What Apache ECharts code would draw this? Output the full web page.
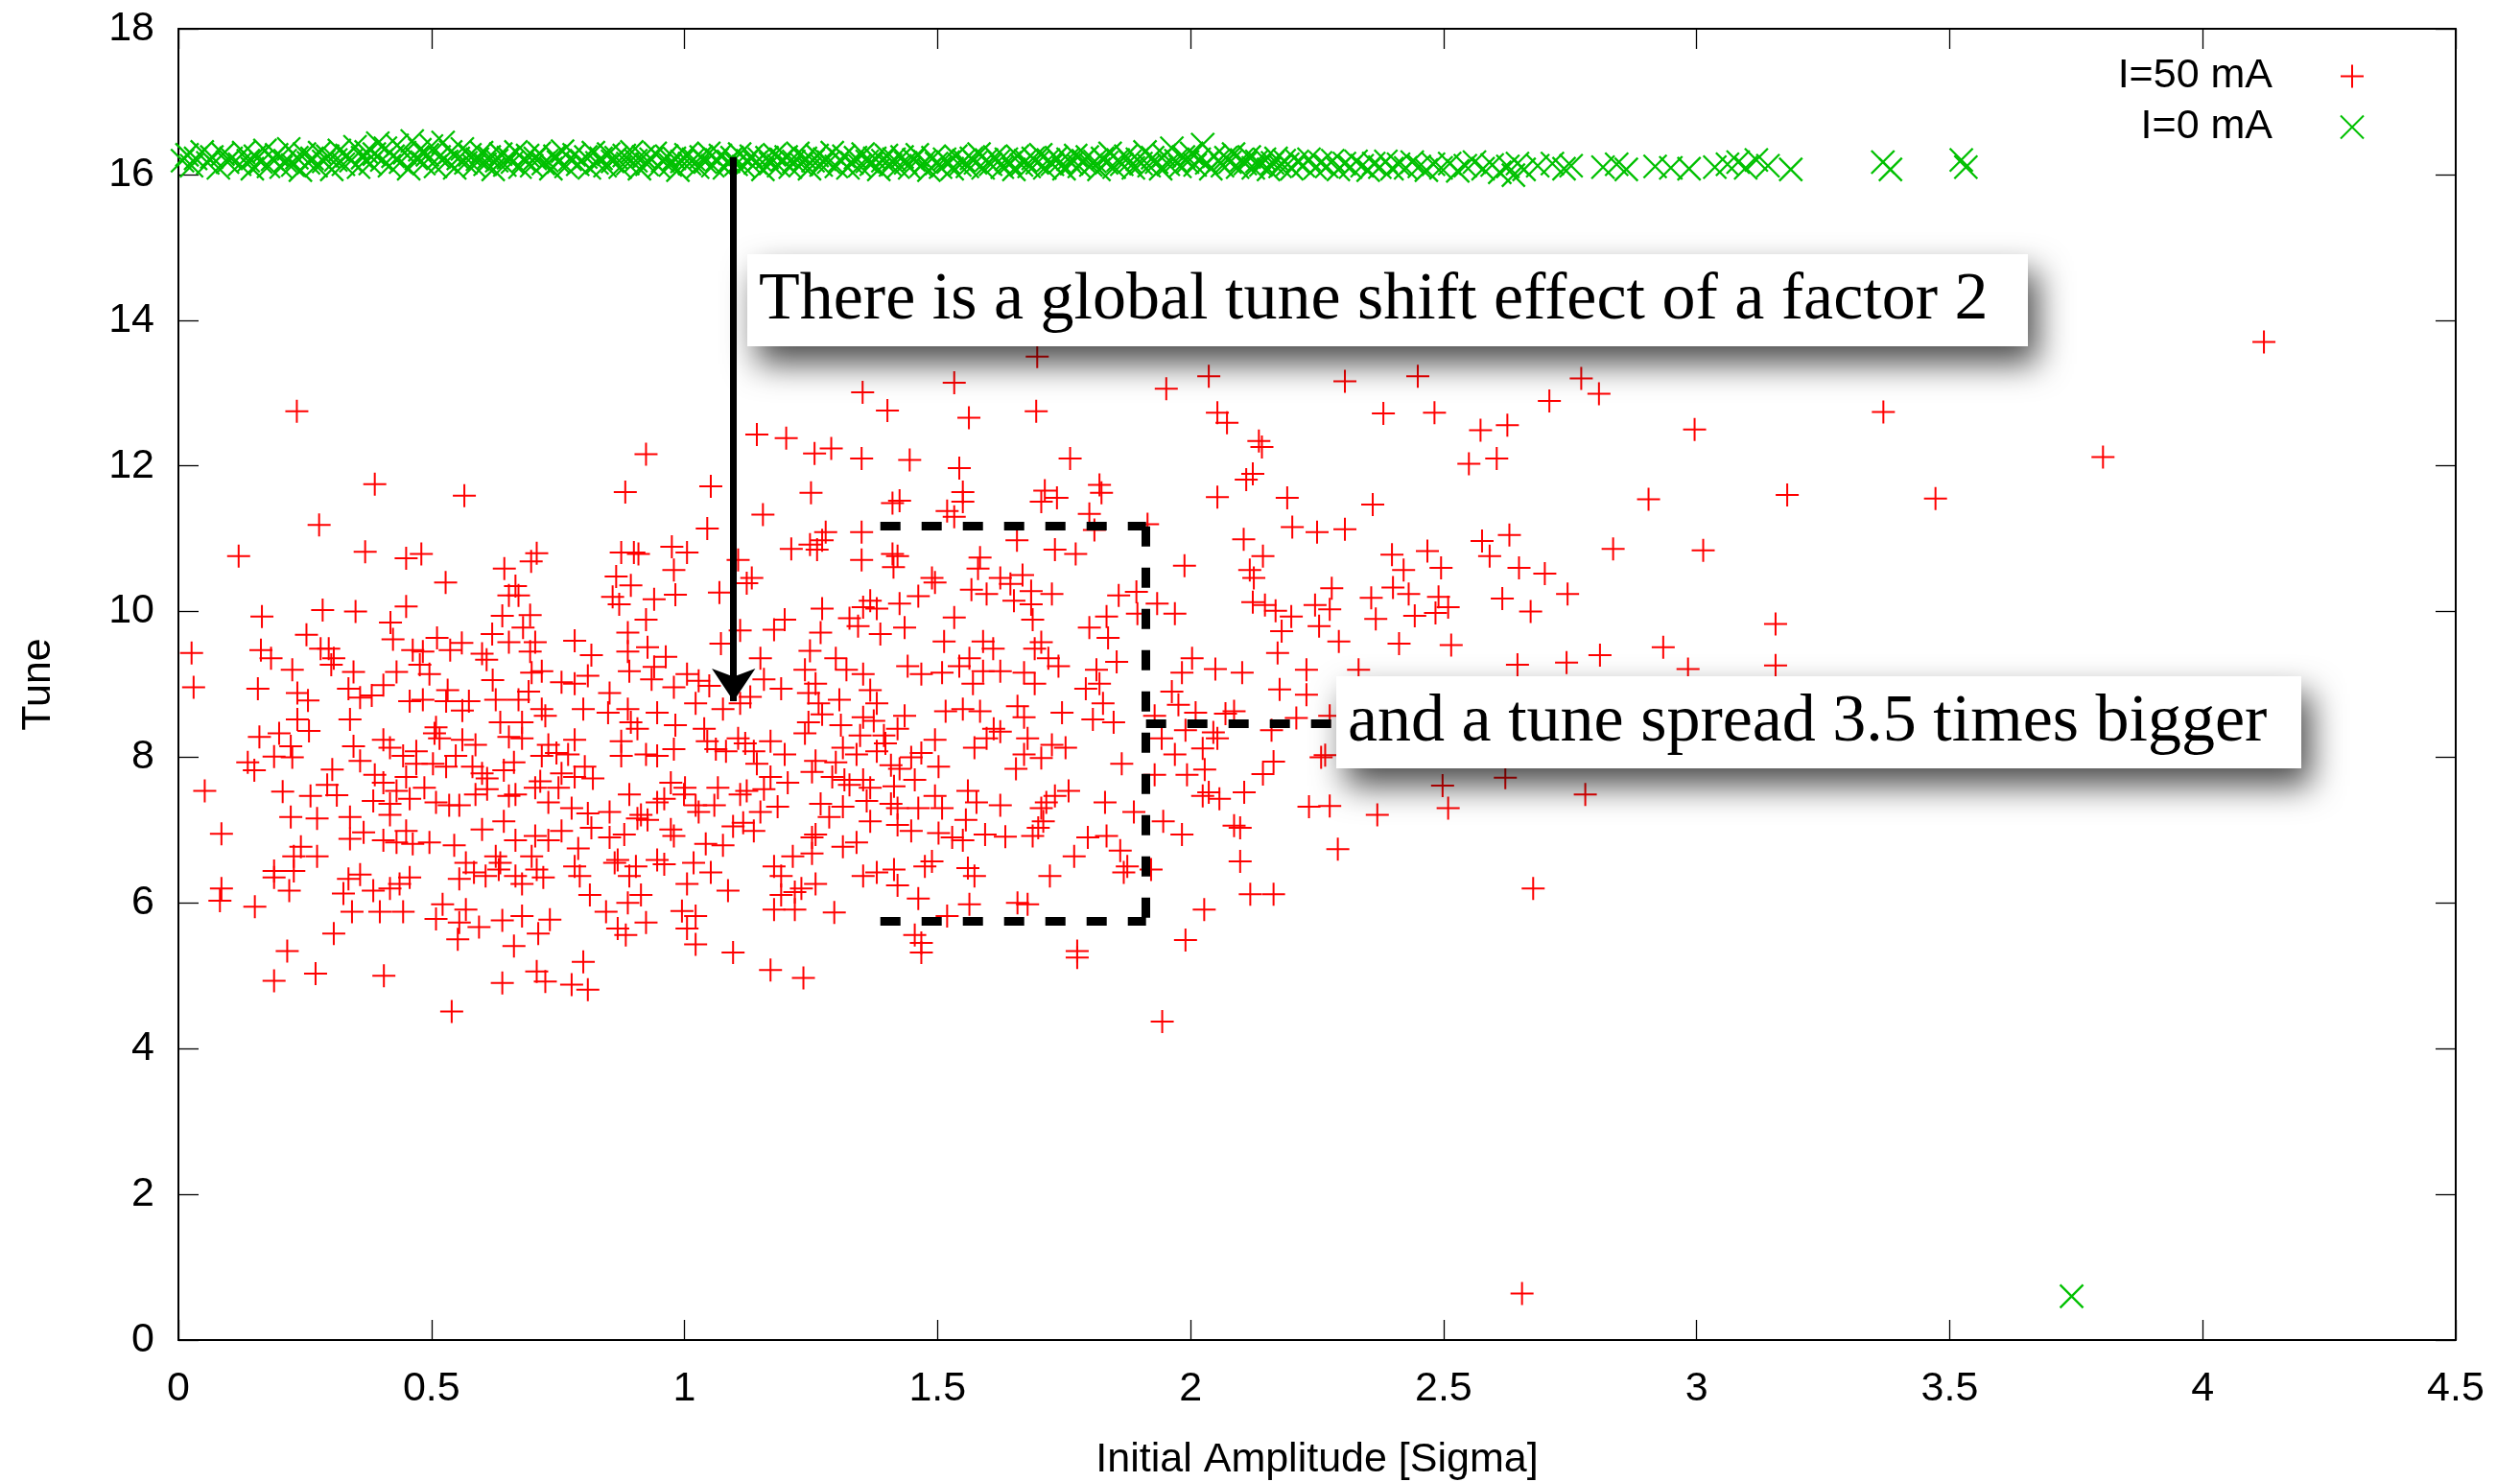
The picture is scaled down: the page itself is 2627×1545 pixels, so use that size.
<!DOCTYPE html>
<html>
<head>
<meta charset="utf-8">
<script src="https://cdn.jsdelivr.net/npm/echarts@6/dist/echarts.min.js"></script>
<style>
html,body{margin:0;padding:0;background:#fff;}
#chart{width:2627px;height:1545px;}
</style>
</head>
<body>
<div id="chart"></div>
<script>
// ---------------- DATA ----------------
const seriesNames = ['I=50 mA', 'I=0 mA'];
const xTicks = [0, 0.5, 1, 1.5, 2, 2.5, 3, 3.5, 4, 4.5];
const yTicks = [0, 2, 4, 6, 8, 10, 12, 14, 16, 18];

// I=50 mA  (red +)  [initial amplitude, tune]
const tune50A = [
[.234,12.75],[.924,12.16],[.388,11.75],[.565,11.59],[.883,11.64],[.278,11.19],[.119,10.76],[.369,10.82],[.450,10.73],[.480,10.79],[.708,10.80],[.697,10.69],[.644,10.59],[.875,10.81],[.90,10.81],[.909,10.79],[.975,10.89],[1.005,10.81],[.979,10.57],[.528,10.40],[.865,10.48],[.894,10.36],[.666,10.35],[.653,10.22],[.672,10.22],[.858,10.20],[.871,10.10],[.940,10.17],[.982,10.23],[.450,10.07],[.285,10.02],[.350,10.00],[.165,9.93],[.419,9.85],[.640,9.94],[.695,9.95],[.924,9.89],[.026,9.43],[.030,8.96],[.253,9.68],[.281,9.49],[.297,9.49],[.307,9.36],[.302,9.27],[.163,9.47],[.183,9.36],[.225,9.20],[.157,8.94],[.424,9.62],[.463,9.47],[.483,9.45],[.477,9.27],[.496,9.14],[.511,9.64],[.560,9.57],[.537,9.47],[.600,9.42],[.609,9.34],[.621,9.06],[.653,9.58],[.681,9.78],[.705,9.58],[.695,9.45],[.620,9.69],[.783,9.60],[.816,9.40],[.888,9.71],[.888,9.45],[.927,9.51],[.963,9.38],[.891,9.18],[.940,9.24],[.935,9.07],[.346,9.17],[.431,9.17],[.405,8.99],[.336,8.94],[.235,8.88],[.256,8.78],[.359,8.82],[.382,8.85],[.457,8.77],[.483,8.79],[.532,8.92],[.529,8.77],[.574,8.77],[.561,8.64],[.627,8.79],[.672,8.79],[.692,8.90],[.698,9.16],[.718,9.18],[.718,8.66],[.757,9.03],[.783,9.01],[.809,9.12],[.800,8.66],[.852,8.88],[.849,8.61],[.888,8.66],[.946,8.61],[.979,8.96],[1.005,9.14],[.235,8.52],[.339,8.52],[.509,8.41]
];
const tune50B = [
[.160,8.28],[.199,8.33],[.222,8.15],[.258,8.36],[.346,8.15],[.405,8.24],[.418,8.13],[.470,8.08],[.506,8.33],[.516,8.26],[.561,8.24],[.587,8.17],[.636,8.48],[.679,8.48],[.679,8.26],[.653,8.28],[.725,8.57],[.783,8.24],[.731,8.17],[.747,8.06],[.770,8.04],[.875,8.22],[.875,8.02],[.894,8.48],[.907,8.39],[.982,8.44],[.979,8.11],[.924,8.04],[.946,8.02],[.137,7.93],[.150,7.82],[.189,8.01],[.225,8.00],[.304,7.83],[.359,7.95],[.388,7.76],[.405,7.65],[.444,8.02],[.450,7.73],[.470,7.91],[.503,7.91],[.529,7.87],[.548,8.02],[.581,7.87],[.600,7.78],[.610,7.71],[.663,7.93],[.643,7.82],[.718,8.02],[.757,7.78],[.783,7.73],[.803,7.87],[.819,7.71],[.715,7.67],[.052,7.54],[.206,7.53],[.261,7.47],[.294,7.62],[.313,7.48],[.385,7.40],[.418,7.36],[.431,7.54],[.457,7.43],[.486,7.58],[.509,7.38],[.535,7.34],[.555,7.34],[.587,7.49],[.610,7.56],[.653,7.47],[.666,7.49],[.705,7.58],[.731,7.38],[.751,7.58],[.777,7.30],[.809,7.23],[.852,7.25],[.891,7.49],[.914,7.21],[.907,7.16],[.927,7.14],[.946,7.38],[.960,7.43],[.973,7.65],[.999,7.49],[.222,7.18],[.274,7.16],[.339,7.18],[.418,7.21],[.085,6.95],[.366,6.97],[.339,6.88],[.405,6.86],[.431,6.83],[.463,6.81],[.496,6.83],[.450,6.99],[.545,6.79],[.600,7.01],[.643,7.12],[.666,6.86],[.705,6.92],[.731,6.86],[.757,6.99],[.816,7.03],[.852,6.90],[.881,6.94],[.973,7.01],[.979,6.92],[.242,6.77],[.274,6.64],[.228,6.64],[.189,6.44],[.189,6.35],[.228,6.44],[.219,6.17],[.085,6.20],[.082,6.03],[.151,5.95],[.336,6.33],[.359,6.39],[.326,6.13],[.385,6.17],[.418,6.20],[.437,6.26],[.457,6.35],[.343,5.88],[.398,5.88],[.444,5.88],[.307,5.58],[.215,5.34],[.189,4.93],[.271,5.03],[.406,5.00],[.540,4.51],[.555,6.33],[.568,6.55],[.584,6.42],[.607,6.37],[.633,6.46],[.627,6.64],[.636,6.55],[.666,6.37],[.679,6.26],[.708,6.46],[.721,6.35],[.698,6.64],[.790,6.75],[.783,6.50],[.793,6.37],[.813,6.11],[.868,6.59],[.862,6.55],[.891,6.37],[.904,6.50],[.946,6.59],[.960,6.53],[1.005,6.26],[.888,6.00],[.914,6.11],[.845,5.88],[.924,5.73],[.868,5.65],[.884,5.56],[.995,5.89],[1.005,5.65],[.522,5.98],[.509,5.78],[.568,5.91],[.555,5.73],[.594,5.67],[.552,5.50],[.640,5.76],[.679,5.82],[.734,5.77],[.711,5.58],[.663,5.41],[.800,5.19],[.708,5.06],[.725,4.92],[.777,4.88],[.809,4.81],[.640,4.90]
];
const tune50C = [
[1.352,13.01],[1.533,13.14],[1.952,13.06],[1.401,12.76],[1.562,12.66],[1.695,12.75],[1.143,12.43],[1.201,12.38],[1.257,12.17],[1.290,12.24],[1.350,12.10],[1.445,12.08],[1.543,11.97],[1.762,12.10],[1.052,11.72],[1.250,11.63],[1.155,11.33],[1.045,11.14],[1.411,11.49],[1.425,11.52],[1.550,11.64],[1.550,11.51],[1.519,11.38],[1.533,11.30],[1.712,11.66],[1.705,11.51],[1.736,11.56],[1.820,11.74],[1.824,11.63],[1.800,11.34],[1.915,11.20],[1.810,11.12],[1.279,11.09],[1.272,10.98],[1.350,11.09],[1.657,10.98],[1.732,10.85],[1.773,10.79],[1.211,10.86],[1.248,10.92],[1.262,10.85],[1.350,10.71],[1.411,10.79],[1.421,10.76],[1.413,10.61],[1.106,10.71],[1.133,10.46],[1.123,10.39],[1.069,10.26],[1.584,10.74],[1.580,10.59],[1.489,10.46],[1.495,10.40],[1.624,10.46],[1.668,10.50],[1.644,10.38],[1.567,10.30],[1.597,10.24],[1.685,10.28],[1.726,10.24],[1.651,10.15],[1.685,10.10],[1.988,10.63],[1.858,10.22],[1.893,10.27],[1.934,10.11],[1.969,9.97],[1.895,9.97],[1.834,9.93],[1.800,9.78],[1.837,9.64],[1.462,10.21],[1.425,10.11],[1.367,10.15],[1.380,10.04],[1.353,10.06],[1.326,9.91],[1.343,9.80],[1.387,9.69],[1.435,9.78],[1.272,10.04],[1.269,9.71],[1.198,9.89],[1.177,9.75],[1.110,9.74],[1.072,9.56],[1.248,9.46],[1.533,9.92],[1.688,9.89],[1.513,9.59],[1.590,9.59],[1.610,9.49],[1.705,9.58],[1.692,9.49],[1.719,9.36],[1.739,9.25],[1.441,9.25],[1.468,9.14],[1.509,9.16],[1.543,9.25],[1.563,9.36],[1.590,9.18],[1.624,9.18],[1.671,9.16],[1.570,9.01],[1.692,9.01],[1.854,9.31],[1.814,9.20],[1.820,9.01],[1.793,8.94],[1.827,8.74],[2.003,9.36],[1.983,9.16],[1.963,8.90],[1.976,8.72],[1.929,8.57],[2.010,8.61],[1.299,9.36],[1.320,9.20],[1.353,9.14],[1.367,8.92],[1.380,8.74],[1.259,9.01],[1.245,8.88],[1.265,8.74],[1.306,8.79],[1.238,9.20],[1.150,9.36],[1.157,9.07],[1.191,8.94],[1.130,8.83],[1.110,8.74],[1.076,8.66],[1.049,8.98],[1.028,9.05],[1.022,8.74],[1.353,8.55],[1.435,8.57],[1.516,8.63],[1.550,8.66],[1.584,8.63],[1.658,8.70],[1.671,8.55],[1.746,8.61],[1.807,8.52],[1.848,8.48],[1.697,13.50]
];
const tune50D = [
[1.039,8.39],[1.045,8.22],[1.062,8.11],[1.082,8.08],[1.106,8.26],[1.120,8.19],[1.137,8.08],[1.170,8.22],[1.198,8.04],[1.143,7.91],[1.245,8.48],[1.238,8.33],[1.272,8.59],[1.309,8.44],[1.374,8.50],[1.394,8.30],[1.397,8.19],[1.380,8.08],[1.421,8.39],[1.347,8.30],[1.313,8.13],[1.340,8.04],[1.299,7.93],[1.259,7.95],[1.252,7.80],[1.292,7.73],[1.316,7.69],[1.326,7.62],[1.353,7.69],[1.367,7.58],[1.408,7.89],[1.425,7.84],[1.448,8.00],[1.468,8.06],[1.495,8.24],[1.502,7.87],[1.455,7.69],[1.414,7.60],[1.170,7.73],[1.204,7.65],[1.157,7.56],[1.123,7.54],[1.110,7.49],[1.066,7.58],[1.001,7.58],[1.022,7.34],[1.028,7.25],[1.059,7.34],[1.150,7.25],[1.184,7.32],[1.269,7.36],[1.286,7.18],[1.313,7.32],[1.360,7.40],[1.367,7.12],[1.408,7.36],[1.421,7.30],[1.462,7.30],[1.421,7.07],[1.448,6.99],[1.495,7.47],[1.509,7.30],[1.556,7.14],[1.560,7.54],[1.577,7.38],[1.624,7.34],[1.705,7.30],[1.715,7.38],[1.732,7.47],[1.759,7.54],[1.709,7.12],[1.699,7.03],[1.831,7.38],[1.888,7.25],[1.946,7.12],[1.983,6.94],[1.502,6.96],[1.529,6.90],[1.550,6.86],[1.594,6.94],[1.634,6.91],[1.688,6.92],[1.797,6.90],[1.834,6.92],[1.861,6.72],[1.770,6.64],[1.875,6.50],[1.868,6.42],[1.922,6.46],[1.722,6.37],[1.560,6.48],[1.573,6.37],[1.475,6.50],[1.489,6.57],[1.414,6.46],[1.421,6.24],[1.380,6.42],[1.353,6.37],[1.462,6.06],[1.563,5.98],[1.658,6.00],[1.678,5.98],[1.519,5.82],[1.455,5.56],[1.468,5.45],[1.468,5.32],[1.776,5.34],[1.776,5.25],[1.990,5.49],[1.944,4.37],[2.027,5.91],[1.929,7.76],[1.993,7.76],[1.969,8.04],[1.943,8.26],[1.990,8.37],[2.024,7.47],[1.864,7.91],[1.753,8.13],[1.726,8.17],[1.678,8.26],[1.671,8.04],[1.655,7.84],[1.705,7.99],[1.611,8.39],[1.597,8.26],[1.573,8.13],[1.624,8.35],[1.018,6.55],[1.052,6.42],[1.086,6.17],[1.177,6.50],[1.191,6.37],[1.214,6.64],[1.252,6.68],[1.259,6.26],[1.231,6.20],[1.218,6.15],[1.191,6.11],[1.177,5.91],[1.218,5.91],[1.296,5.87],[1.313,6.77],[1.340,6.83],[1.022,5.82],[1.022,5.43],[1.096,5.32],[1.170,5.08],[1.235,4.97],[1.042,6.81],[1.076,6.79],[1.096,7.05],[1.116,7.10],[1.137,6.99],[1.252,6.90],[1.259,6.94]
];
const tune50E = [
[2.036,13.23],[2.305,13.16],[2.449,13.23],[2.772,13.20],[2.807,12.99],[2.709,12.89],[2.053,12.73],[2.072,12.59],[2.381,12.72],[2.482,12.73],[2.573,12.49],[2.626,12.56],[2.996,12.50],[2.135,12.34],[2.141,12.26],[2.123,11.89],[2.110,11.81],[2.550,12.03],[2.605,12.10],[2.053,11.57],[2.191,11.56],[2.360,11.47],[2.905,11.54],[3.179,11.60],[2.201,11.16],[2.250,11.09],[2.305,11.13],[2.105,10.99],[2.143,10.76],[2.576,10.97],[2.630,11.05],[2.591,10.76],[2.835,10.86],[3.013,10.84],[2.117,10.57],[2.125,10.46],[2.398,10.78],[2.468,10.83],[2.421,10.57],[2.495,10.60],[2.649,10.60],[2.700,10.52],[2.279,10.32],[2.400,10.33],[2.431,10.24],[2.357,10.19],[2.490,10.20],[2.509,10.06],[2.616,10.18],[2.745,10.24],[2.123,10.13],[2.147,10.09],[2.168,10.01],[2.246,10.09],[2.275,10.03],[2.199,9.93],[2.672,10.00],[2.443,9.94],[2.484,9.98],[2.366,9.90],[2.180,9.73],[2.254,9.80],[2.293,9.59],[2.412,9.56],[2.515,9.54],[3.156,9.83],[2.172,9.43],[2.049,9.21],[2.102,9.16],[2.229,9.20],[2.332,9.20],[2.646,9.27],[2.743,9.30],[2.809,9.40],[2.934,9.51],[2.983,9.21],[3.156,9.26],[2.176,8.93],[2.229,8.86],[2.069,8.60],[2.086,8.63],[2.209,8.54],[2.275,8.57],[2.045,8.34],[2.053,8.26],[2.160,8.37],[2.024,8.12],[2.028,7.83],[2.164,7.94],[2.143,7.77],[2.258,8.00],[2.266,8.03],[2.036,7.52],[2.057,7.43],[2.106,7.52],[2.234,7.32],[2.275,7.33],[2.369,7.21],[2.498,7.61],[2.509,7.30],[2.622,7.72],[2.780,7.49],[2.086,7.06],[2.098,7.03],[2.098,6.57],[2.291,6.74],[2.118,6.12],[2.164,6.12],[2.677,6.20],
[4.121,13.70],[3.369,12.74],[3.803,12.12],[3.472,11.55],[2.655,0.64]
];

// I=0 mA  (green x)  [initial amplitude, tune]
const tune0 = [
[0.008,16.19],[0.017,16.27],[0.026,16.12],[0.034,16.22],[0.047,16.31],[0.058,16.16],[0.066,16.24],[0.079,16.09],[0.088,16.28],[0.097,16.17],[0.104,16.22],[0.121,16.14],[0.129,16.30],[0.138,16.19],[0.146,16.08],[0.152,16.25],[0.163,16.17],[0.171,16.33],[0.178,16.11],[0.186,16.21],[0.194,16.27],[0.203,16.10],[0.211,16.19],[0.218,16.35],[0.226,16.13],[0.234,16.23],[0.241,16.06],[0.249,16.28],[0.257,16.16],[0.264,16.22],[0.272,16.12],[0.279,16.30],[0.287,16.18],[0.295,16.25],[0.303,16.07],[0.311,16.20],[0.318,16.33],[0.326,16.14],[0.333,16.26],[0.341,16.19],[0.349,16.38],[0.356,16.10],[0.364,16.23],[0.371,16.31],[0.379,16.15],[0.387,16.28],[0.394,16.43],[0.402,16.20],[0.409,16.36],[0.417,16.12],[0.424,16.25],[0.432,16.40],[0.439,16.17],[0.447,16.30],[0.455,16.08],[0.462,16.46],[0.470,16.22],[0.477,16.34],[0.485,16.15],[0.492,16.27],[0.500,16.39],[0.508,16.11],[0.515,16.24],[0.523,16.44],[0.530,16.18],[0.538,16.31],[0.546,16.09],[0.553,16.22],[0.561,16.35],[0.568,16.16],[0.576,16.27],[0.584,16.12],[0.591,16.21],[0.599,16.30],[0.606,16.14],[0.614,16.24],[0.622,16.07],[0.629,16.19],[0.637,16.28],[0.645,16.13],[0.652,16.23],[0.660,16.17],[0.667,16.31],[0.675,16.10],[0.683,16.20],[0.690,16.26],[0.698,16.12],[0.705,16.22],[0.713,16.29],[0.721,16.15],[0.728,16.19],[0.736,16.08],[0.744,16.25],[0.751,16.17],[0.759,16.32],[0.766,16.11],[0.774,16.21],[0.782,16.27],[0.789,16.14],[0.797,16.19],[0.805,16.24],[0.812,16.09],[0.820,16.30],[0.827,16.16],[0.835,16.22],[0.843,16.12],[0.850,16.28],[0.858,16.18],[0.865,16.23],[0.873,16.10],[0.881,16.26],[0.888,16.15],[0.896,16.31],[0.904,16.19],[0.911,16.08],[0.919,16.24],[0.926,16.14],[0.934,16.21],[0.942,16.29],[0.949,16.11],[0.957,16.19],[0.965,16.25],[0.972,16.13],[0.980,16.22],[0.987,16.06],[0.995,16.18],[1.003,16.27],[1.010,16.15],[1.018,16.21],[1.026,16.10],[1.033,16.24],[1.041,16.17],[1.048,16.29],[1.056,16.12],[1.064,16.20],[1.071,16.26],[1.079,16.09],[1.087,16.18],[1.094,16.23],[1.102,16.14],[1.109,16.28],[1.117,16.11],[1.125,16.19],[1.132,16.25],[1.140,16.16],[1.148,16.21],[1.155,16.07],[1.163,16.23],[1.170,16.15],[1.178,16.27],[1.186,16.12],[1.193,16.20],[1.201,16.24],[1.209,16.10],[1.216,16.18],[1.224,16.29],[1.231,16.14],[1.239,16.22],[1.247,16.08],[1.254,16.19],[1.262,16.26],[1.270,16.13],[1.277,16.21],[1.285,16.17],[1.292,16.30],[1.300,16.11],[1.308,16.20],[1.315,16.25],[1.323,16.09],[1.331,16.16],[1.338,16.23],[1.346,16.12],[1.353,16.28],[1.361,16.18],[1.369,16.14],[1.376,16.22],[1.384,16.07],[1.392,16.19],[1.399,16.26],[1.407,16.13],[1.414,16.21],[1.422,16.10],[1.430,16.24],[1.437,16.16],[1.445,16.09],[1.453,16.20],[1.460,16.27],[1.468,16.12],[1.475,16.18],[1.483,16.06],[1.491,16.23],[1.498,16.15],[1.506,16.10],[1.514,16.21],[1.521,16.17],[1.529,16.08],[1.536,16.25],[1.544,16.13],[1.552,16.19],[1.559,16.11],[1.567,16.22],[1.575,16.16],[1.582,16.28],[1.590,16.09],[1.597,16.20],[1.605,16.14],[1.613,16.24],[1.620,16.18],[1.628,16.10],[1.636,16.21],[1.643,16.16],[1.651,16.07],[1.658,16.25],[1.666,16.13],[1.674,16.19],[1.681,16.11],[1.689,16.22],[1.697,16.16],[1.704,16.27],[1.712,16.09],[1.719,16.20],[1.727,16.14],[1.735,16.23],[1.742,16.17],[1.750,16.08],[1.758,16.21],[1.765,16.15],[1.773,16.26],[1.780,16.11],[1.788,16.19],[1.796,16.24],[1.803,16.13],[1.811,16.18],[1.819,16.07],[1.826,16.22],[1.834,16.16],[1.841,16.29],[1.849,16.10],[1.857,16.20],[1.864,16.14],[1.872,16.25],[1.880,16.18],[1.887,16.09],[1.895,16.21],[1.902,16.15],[1.910,16.31],[1.918,16.12],[1.925,16.23],[1.933,16.17],[1.941,16.08],[1.948,16.26],[1.956,16.14],[1.963,16.36],[1.971,16.19],[1.979,16.11],[1.986,16.24],[1.994,16.17],[2.002,16.29],[2.009,16.13],[2.017,16.21],[2.024,16.41],[2.032,16.16],[2.040,16.08],[2.047,16.25],[2.055,16.19],[2.063,16.12],[2.070,16.23],[2.078,16.17],[2.085,16.28],[2.093,16.10],[2.101,16.20],[2.108,16.15],[2.116,16.24],[2.124,16.09],[2.131,16.18],[2.139,16.13],[2.146,16.21],[2.154,16.07],[2.162,16.16],[2.169,16.22],[2.177,16.11],[2.185,16.19],[2.192,16.14],[2.200,16.08],[2.211,16.18],[2.223,16.12],[2.234,16.21],[2.246,16.09],[2.257,16.16],[2.269,16.11],[2.281,16.19],[2.292,16.07],[2.304,16.15],[2.316,16.10],[2.327,16.18],[2.339,16.12],[2.351,16.06],[2.362,16.15],[2.374,16.10],[2.386,16.18],[2.398,16.08],[2.411,16.14],[2.425,16.09],[2.438,16.17],[2.452,16.11],[2.466,16.06],[2.480,16.14],[2.495,16.09],[2.512,16.15],[2.528,16.05],[2.543,16.12],[2.561,16.17],[2.578,16.08],[2.596,16.13],[2.611,16.03],[2.627,16.11],[2.638,15.99],[2.646,16.15],[2.659,16.07],[2.686,16.12],[2.715,16.15],[2.738,16.08],[2.752,16.12],[2.815,16.10],[2.842,16.14],[2.861,16.07],[2.918,16.11],[2.949,16.09],[2.985,16.08],[3.036,16.10],[3.061,16.14],[3.082,16.17],[3.097,16.09],[3.118,16.20],[3.141,16.12],[3.186,16.07],[3.368,16.17],[3.383,16.07],[3.523,16.20],[3.532,16.10],[3.741,0.60]
];

const tune50 = tune50A.concat(tune50B, tune50C, tune50D, tune50E);

// annotation texts
const note1 = 'There is a global tune shift effect of a factor 2';
const note2 = 'and a tune spread 3.5 times bigger';

// ---------------- CHART ----------------
const chart = echarts.init(document.getElementById('chart'), null, {renderer: 'canvas'});
const plusSym = 'path://M12,0 L12,24 M0,12 L24,12';
const crossSym = 'path://M0,0 L24,24 M24,0 L0,24';
const sans = '"Liberation Sans", Arial, Helvetica, sans-serif';
const serif = '"Liberation Serif", "Times New Roman", serif';

const axisCommon = {
  type: 'value',
  axisLine: {show: true, onZero: false, lineStyle: {color: '#000', width: 2}},
  axisTick: {show: true, inside: true, length: 21, lineStyle: {color: '#000', width: 1.3}},
  splitLine: {show: false}
};

const option = {
  backgroundColor: '#ffffff',
  animation: false,
  grid: {left: 186, right: 67, top: 30, bottom: 148, containLabel: false, outerBoundsMode: 'none'},
  legend: {
    data: seriesNames,
    orient: 'vertical',
    right: 162,
    top: 58,
    padding: 0,
    align: 'right',
    itemWidth: 24,
    itemHeight: 24,
    itemGap: 10,
    selectedMode: false,
    textStyle: {fontSize: 43, lineHeight: 43, fontFamily: sans, color: '#000', padding: [0, 66, 0, 0]}
  },
  xAxis: [
    Object.assign({}, axisCommon, {
      position: 'bottom', min: xTicks[0], max: xTicks[xTicks.length - 1], interval: 0.5,
      axisLabel: {show: true, fontSize: 43, fontFamily: sans, color: '#000', margin: 30},
      name: 'Initial Amplitude [Sigma]', nameLocation: 'middle', nameGap: 104,
      nameTextStyle: {fontSize: 43, fontFamily: sans, color: '#000'}
    }),
    Object.assign({}, axisCommon, {
      position: 'top', min: xTicks[0], max: xTicks[xTicks.length - 1], interval: 0.5,
      axisLabel: {show: false}
    })
  ],
  yAxis: [
    Object.assign({}, axisCommon, {
      position: 'left', min: yTicks[0], max: yTicks[yTicks.length - 1], interval: 2,
      axisLabel: {show: true, fontSize: 43, fontFamily: sans, color: '#000', margin: 25},
      name: 'Tune', nameLocation: 'middle', nameGap: 124, nameRotate: 90,
      nameTextStyle: {fontSize: 43, fontFamily: sans, color: '#000'}
    }),
    Object.assign({}, axisCommon, {
      position: 'right', min: yTicks[0], max: yTicks[yTicks.length - 1], interval: 2,
      axisLabel: {show: false}
    })
  ],
  series: [
    {
      name: seriesNames[0], type: 'scatter', xAxisIndex: 0, yAxisIndex: 0,
      data: tune50, symbol: plusSym, symbolSize: 24, z: 2, silent: true,
      itemStyle: {color: '#ff0000', borderColor: '#ff0000', borderWidth: 2, opacity: 1}
    },
    {
      name: seriesNames[1], type: 'scatter', xAxisIndex: 0, yAxisIndex: 0,
      data: tune0, symbol: crossSym, symbolSize: 24, z: 3, silent: true,
      itemStyle: {color: '#00c000', borderColor: '#00c000', borderWidth: 2.3, opacity: 1}
    },
    {
      name: 'arrow', type: 'scatter', data: [], z: 5, silent: true,
      markLine: {
        silent: true, symbol: ['none', 'arrow'], symbolSize: 34,
        label: {show: false}, animation: false,
        lineStyle: {color: '#000', width: 7, type: 'solid'},
        emphasis: {disabled: true},
        data: [[{coord: [1.097, 16.24]}, {coord: [1.097, 8.77]}]]
      }
    },
    {
      name: 'bracket', type: 'scatter', data: [], z: 5, silent: true,
      markLine: {
        silent: true, symbol: ['none', 'none'],
        label: {show: false}, animation: false,
        lineStyle: {color: '#000', width: 9, type: [21, 22], cap: 'butt'},
        emphasis: {disabled: true},
        data: [
          [{coord: [1.387, 11.17]}, {coord: [1.912, 11.17]}],
          [{coord: [1.912, 11.17]}, {coord: [1.912, 5.757]}],
          [{coord: [1.387, 5.757]}, {coord: [1.912, 5.757]}],
          [{coord: [1.912, 8.47]}, {coord: [2.29, 8.47]}]
        ]
      }
    }
  ],
  graphic: [
    {type: 'rect', z: 100, shape: {x: 779, y: 265, width: 1335, height: 96},
     style: {fill: '#fff', shadowBlur: 34, shadowOffsetX: 10, shadowOffsetY: 18, shadowColor: 'rgba(0,0,0,0.7)'}},
    {type: 'text', z: 101, x: 791, y: 314,
     style: {text: note1, fontSize: 70, fontFamily: serif, fill: '#000', verticalAlign: 'middle', textAlign: 'left'}},
    {type: 'rect', z: 100, shape: {x: 1393, y: 705, width: 1006, height: 96},
     style: {fill: '#fff', shadowBlur: 34, shadowOffsetX: 10, shadowOffsetY: 18, shadowColor: 'rgba(0,0,0,0.7)'}},
    {type: 'text', z: 101, x: 1405, y: 754,
     style: {text: note2, fontSize: 70, fontFamily: serif, fill: '#000', verticalAlign: 'middle', textAlign: 'left'}}
  ]
};
chart.setOption(option);
</script>
</body>
</html>
